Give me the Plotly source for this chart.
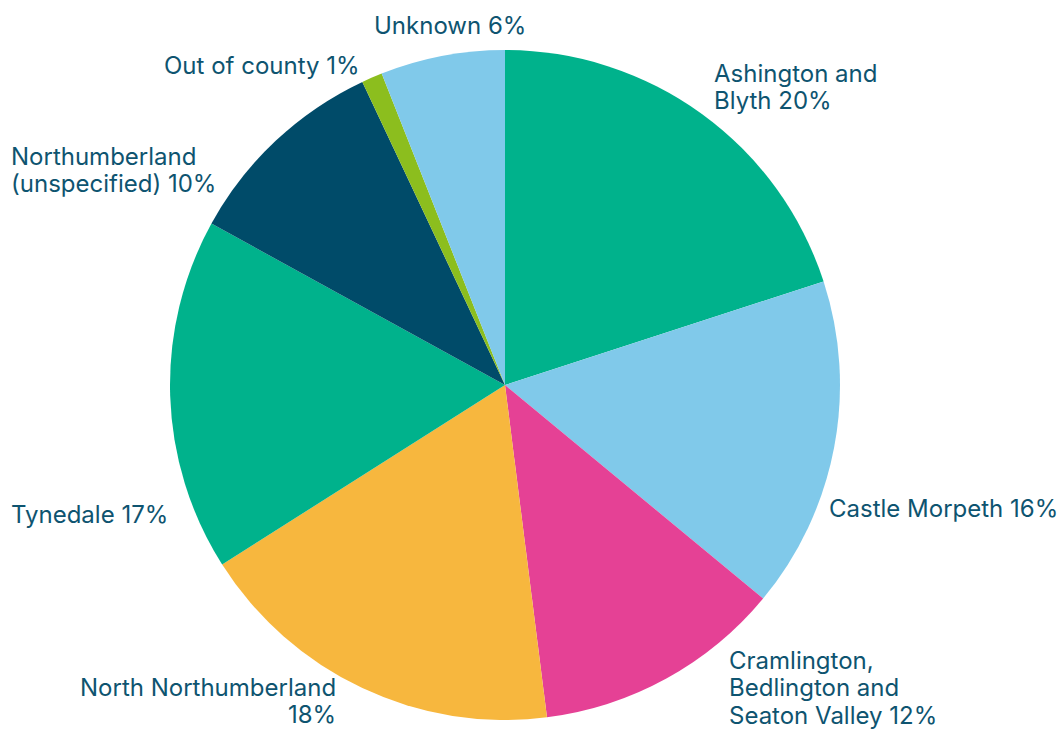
import plotly.graph_objects as go

# Share of records by area, clockwise from 12 o'clock
areas = [
    "Ashington and Blyth",
    "Castle Morpeth",
    "Cramlington, Bedlington and Seaton Valley",
    "North Northumberland",
    "Tynedale",
    "Northumberland (unspecified)",
    "Out of county",
    "Unknown",
]
shares = [20, 16, 12, 18, 17, 10, 1, 6]
colors = ["#00B28C", "#80C9EA", "#E54195", "#F7B73E", "#00B28C", "#004B69", "#8CBE1E", "#80C9EA"]

# Label text with manual line breaks
label_lines = [
    ["Ashington and", "Blyth {}%"],
    ["Castle Morpeth {}%"],
    ["Cramlington,", "Bedlington and", "Seaton Valley {}%"],
    ["North Northumberland", "{}%"],
    ["Tynedale {}%"],
    ["Northumberland", "(unspecified) {}%"],
    ["Out of county {}%"],
    ["Unknown {}%"],
]

W, H = 1063, 731
TEXT = "#0E5470"
FONT = "Inter"
SIZE = 24
STEP = 27.5

fig = go.Figure(go.Pie(
    labels=areas,
    values=shares,
    sort=False,
    direction="clockwise",
    rotation=0,
    marker=dict(colors=colors, line=dict(width=0)),
    textinfo="none",
    hoverinfo="label+percent",
    showlegend=False,
    domain=dict(x=[170 / W, 840 / W], y=[1 - 720 / H, 1 - 50 / H]),
))

# label placement (pixels): x edge, y-center of first line, horizontal anchor
label_pos = [
    (713, 73, "left"),
    (828, 508, "left"),
    (728, 660, "left"),
    (337, 687, "right"),
    (10, 514, "left"),
    (10, 156, "left"),
    (163, 65, "left"),
    (373, 26, "left"),
]

for lines, v, (px, py, anchor) in zip(label_lines, shares, label_pos):
    for i, line in enumerate(lines):
        fig.add_annotation(
            x=px / W, y=1 - (py + i * STEP) / H, xref="paper", yref="paper",
            text=line.format(v), showarrow=False, xanchor=anchor, yanchor="middle",
            align=anchor, borderpad=0,
            font=dict(family=FONT, size=SIZE, color=TEXT),
        )

fig.update_layout(
    width=W, height=H,
    margin=dict(l=0, r=0, t=0, b=0),
    paper_bgcolor="white",
    plot_bgcolor="white",
)

fig.write_html("out.html")
